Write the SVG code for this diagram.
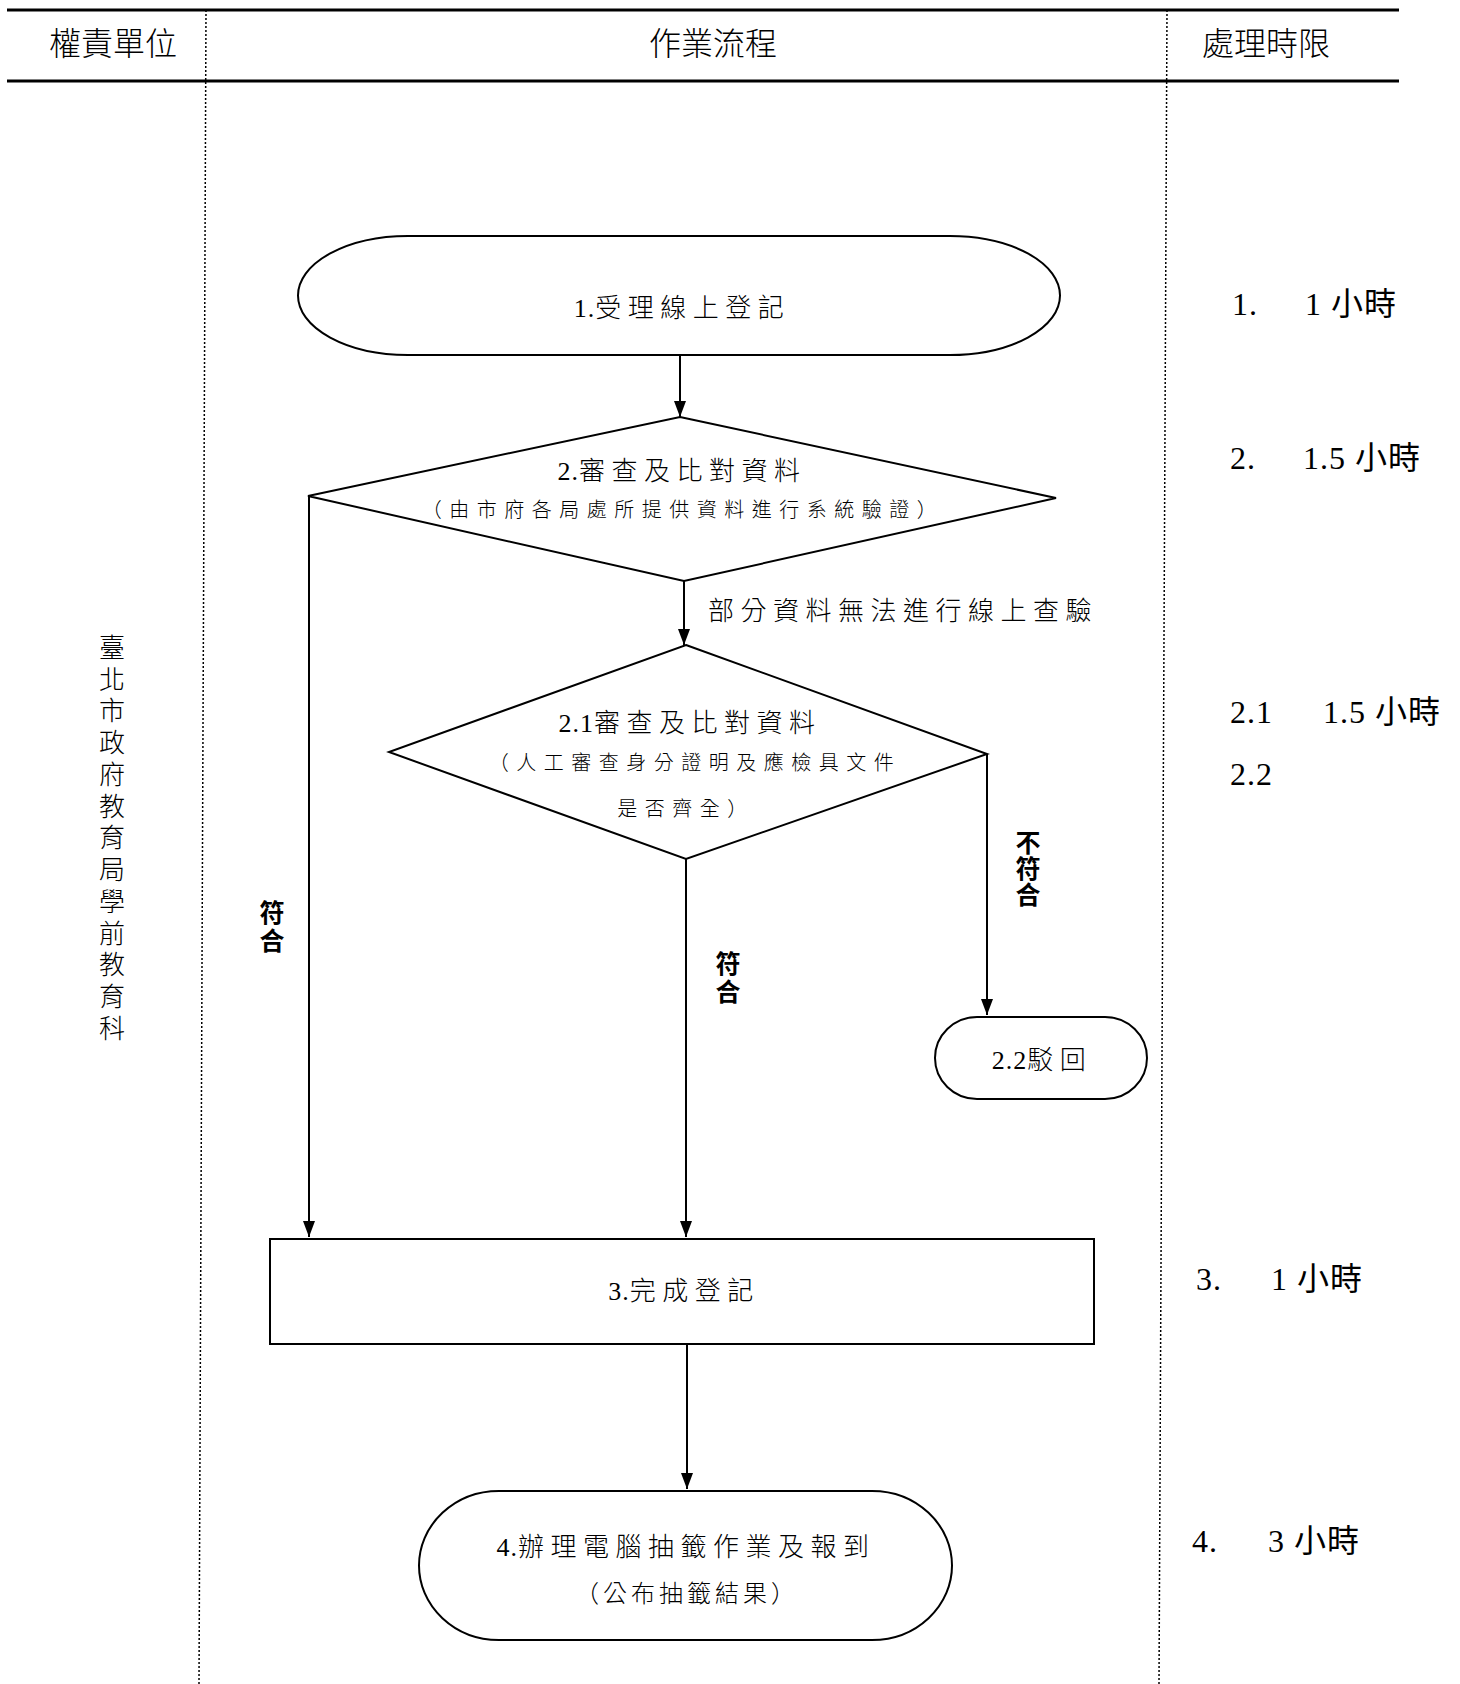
<svg xmlns="http://www.w3.org/2000/svg" width="1460" height="1684" viewBox="0 0 1460 1684">
<defs>
<marker id="arr" markerUnits="userSpaceOnUse" markerWidth="16" markerHeight="12" viewBox="0 0 16 12" refX="16" refY="6" orient="auto">
<path d="M0,0 L16,6 L0,12 z" fill="#000"/>
</marker>
<style>
.hd{font-family:"Noto Sans CJK TC","Noto Sans CJK SC",sans-serif;font-size:32px;font-weight:300;fill:#000;text-anchor:middle}
.t{font-family:"Liberation Serif","Noto Sans CJK TC",serif;font-size:26px;font-weight:300;letter-spacing:6.5px;fill:#000;text-anchor:middle}
.s{font-family:"Liberation Serif","Noto Sans CJK TC",serif;font-size:20px;font-weight:300;letter-spacing:7.5px;fill:#000;text-anchor:middle}
.d{letter-spacing:1px}
.b{font-family:"Noto Sans CJK TC","Noto Sans CJK SC",sans-serif;font-size:25px;font-weight:700;fill:#000;writing-mode:vertical-rl;text-orientation:upright}
.v{font-family:"Noto Sans CJK TC","Noto Sans CJK SC",sans-serif;font-size:26px;font-weight:300;fill:#000;writing-mode:vertical-rl;text-orientation:upright;letter-spacing:5.75px}
.tm{font-family:"Liberation Serif","Noto Sans CJK TC",serif;font-size:32px;fill:#000;letter-spacing:1px}
.shape{fill:#fff;stroke:#000;stroke-width:2}
.ln{fill:none;stroke:#000;stroke-width:2}
.hl{stroke:#000;stroke-width:3}
.dl{stroke:#000;stroke-width:1.5;stroke-dasharray:2 2}
</style>
</defs>
<rect width="1460" height="1684" fill="#fff"/>
<g id="table">
<line class="hl" x1="7" y1="10" x2="1399" y2="10"/>
<line class="hl" x1="7" y1="81" x2="1399" y2="81"/>
<line class="dl" x1="206" y1="10" x2="199" y2="1684"/>
<line class="dl" x1="1167" y1="10" x2="1159" y2="1684"/>
<text class="hd" x="113" y="55">權責單位</text>
<text class="hd" x="713" y="55">作業流程</text>
<text class="hd" x="1266" y="55">處理時限</text>
</g>
<g id="unit">
<text class="v" x="112" y="634">臺北市政府教育局學前教育科</text>
</g>
<g id="connectors">
<line class="ln" x1="680" y1="355" x2="680" y2="417" marker-end="url(#arr)"/>
<line class="ln" x1="684" y1="581" x2="684" y2="645" marker-end="url(#arr)"/>
<line class="ln" x1="309" y1="496" x2="309" y2="1237" marker-end="url(#arr)"/>
<line class="ln" x1="686" y1="859" x2="686" y2="1237" marker-end="url(#arr)"/>
<line class="ln" x1="987" y1="754" x2="987" y2="1015" marker-end="url(#arr)"/>
<line class="ln" x1="687" y1="1344" x2="687" y2="1489" marker-end="url(#arr)"/>
<text class="t" x="903" y="620">部分資料無法進行線上查驗</text>
<text class="b" x="272" y="900" letter-spacing="3">符合</text>
<text class="b" x="728" y="951" letter-spacing="3">符合</text>
<text class="b" x="1028" y="830" letter-spacing="1">不符合</text>
</g>
<g id="n1">
<rect class="shape" x="298" y="236" width="762" height="119" rx="110" ry="59.5"/>
<text class="t" x="682" y="317"><tspan class="d">1.</tspan>受理線上登記</text>
</g>
<g id="n2">
<polygon class="shape" points="680,417 1056,498 684,581 308,496"/>
<text class="t" x="682" y="480"><tspan class="d">2.</tspan>審查及比對資料</text>
<text class="s" x="683" y="517">（由市府各局處所提供資料進行系統驗證）</text>
</g>
<g id="n21">
<polygon class="shape" points="686,645 987,754 686,859 389,752"/>
<text class="t" x="690" y="732"><tspan class="d">2.1</tspan>審查及比對資料</text>
<text class="s" x="695" y="770">（人工審查身分證明及應檢具文件</text>
<text class="s" x="686" y="816">是否齊全）</text>
</g>
<g id="n22">
<rect class="shape" x="935" y="1017" width="212" height="82" rx="42" ry="41"/>
<text class="t" x="1042" y="1069"><tspan class="d">2.2</tspan>駁回</text>
</g>
<g id="n3">
<rect class="shape" x="270" y="1239" width="824" height="105"/>
<text class="t" x="684" y="1300"><tspan class="d">3.</tspan>完成登記</text>
</g>
<g id="n4">
<rect class="shape" x="419" y="1491" width="533" height="149" rx="80" ry="74.5"/>
<text class="t" x="686" y="1556"><tspan class="d">4.</tspan>辦理電腦抽籤作業及報到</text>
<text class="t" x="687" y="1602" style="font-size:24px;letter-spacing:4px">（公布抽籤結果）</text>
</g>
<g id="times">
<text class="tm" x="1232" y="315">1.</text><text class="tm" x="1305" y="315">1 小時</text>
<text class="tm" x="1230" y="469">2.</text><text class="tm" x="1303" y="469">1.5 小時</text>
<text class="tm" x="1230" y="723">2.1</text><text class="tm" x="1323" y="723">1.5 小時</text>
<text class="tm" x="1230" y="785">2.2</text>
<text class="tm" x="1196" y="1290">3.</text><text class="tm" x="1271" y="1290">1 小時</text>
<text class="tm" x="1192" y="1552">4.</text><text class="tm" x="1268" y="1552">3 小時</text>
</g>
</svg>
